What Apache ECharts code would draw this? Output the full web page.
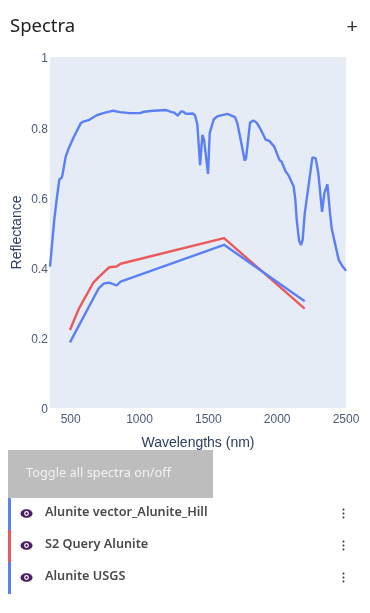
<!DOCTYPE html>
<html><head><meta charset="utf-8">
<style>html,body{margin:0;padding:0;background:#fff}#c{width:370px;height:613px}</style>
<script src="https://cdn.jsdelivr.net/npm/echarts@6/dist/echarts.min.js"></script>
</head><body><div id="c"></div>
<script>
const vectorWavelengths=[350,381,398,418,437,464,483,524,573,592,636,689,737,810,858,931,1004,1033,1101,1193,1234,1251,1277,1302,1319,1338,1386,1403,1420,1440,1457,1469,1498,1510,1539,1565,1573,1638,1694,1711,1735,1764,1774,1803,1827,1851,1880,1917,1943,1980,2016,2033,2062,2084,2120,2132,2142,2159,2173,2185,2200,2214,2256,2280,2299,2326,2343,2365,2384,2396,2420,2447,2476,2500];
const vectorValues=[0.403,0.536,0.593,0.651,0.657,0.716,0.737,0.773,0.811,0.816,0.821,0.834,0.840,0.847,0.843,0.840,0.840,0.844,0.847,0.849,0.843,0.842,0.833,0.845,0.844,0.838,0.839,0.834,0.809,0.692,0.778,0.764,0.667,0.783,0.822,0.831,0.830,0.838,0.829,0.811,0.764,0.705,0.711,0.813,0.819,0.813,0.794,0.764,0.761,0.744,0.707,0.701,0.674,0.662,0.631,0.593,0.536,0.477,0.464,0.479,0.553,0.550,0.714,0.711,0.669,0.559,0.612,0.637,0.555,0.512,0.469,0.422,0.403,0.391];
const s2Wavelengths=[495,561,665,704,750,781,834,863,1614,2200];
const s2Values=[0.222,0.284,0.357,0.373,0.390,0.401,0.403,0.411,0.484,0.283];
const usgsWavelengths=[495,704,742,781,834,863,1614,2200];
const usgsValues=[0.187,0.341,0.355,0.357,0.349,0.360,0.465,0.304];
const xTicks=[500,1000,1500,2000,2500];
const yTicks=[0,0.2,0.4,0.6,0.8,1];
const spectraNames=['Alunite vector_Alunite_Hill','S2 Query Alunite','Alunite USGS'];
const seriesColors=['#5a7ff7','#ea5a5a','#5a7ff7'];

const zip=(a,b)=>a.map((x,i)=>[x,b[i]]);
const ui='"Noto Sans"';
const chart=echarts.init(document.getElementById('c'),null,{renderer:'canvas'});
const graphic=[
 {type:'text',left:10,top:17,style:{text:'Spectra',font:'18.5px '+ui,fill:'#222'}},
 {type:'text',left:346.5,top:17,style:{text:'+',font:'20px '+ui,fill:'#333'}},
 {type:'rect',shape:{x:8,y:450,width:205,height:48},style:{fill:'#bdbdbd'}},
 {type:'text',left:26,top:467,style:{text:'Toggle all spectra on/off',font:'12.8px '+ui,fill:'#f2f2f2'}}
];
spectraNames.forEach((n,i)=>{
 const y=498+i*32;
 graphic.push({type:'rect',shape:{x:8,y:y,width:3,height:32},style:{fill:seriesColors[i]}});
 graphic.push({type:'ellipse',shape:{cx:26.5,cy:y+15.5,rx:6,ry:4.3},style:{fill:'#4a1f63'}});
 graphic.push({type:'circle',shape:{cx:26.5,cy:y+15.5,r:2.4},style:{fill:'#fff'}});
 graphic.push({type:'circle',shape:{cx:26.5,cy:y+15.5,r:1.2},style:{fill:'#4a1f63'}});
 graphic.push({type:'text',left:45,top:y+8,style:{text:n,font:'600 12.7px '+ui,fill:'#4a4a4a'}});
 [-4,0,4].forEach(d=>graphic.push({type:'circle',shape:{cx:343.5,cy:y+15.5+d,r:1},style:{fill:'#333'}}));
});
chart.setOption({
 animation:false,
 grid:{left:50,top:57,width:296,height:351,backgroundColor:'#e5ecf6',show:true,borderWidth:0,outerBoundsMode:'none'},
 xAxis:{type:'value',min:350,max:2500,
  name:'Wavelengths (nm)',nameLocation:'middle',nameGap:28,nameMoveOverlap:false,
  nameTextStyle:{color:'#2a3f5f',fontSize:14,fontFamily:'Liberation Sans'},
  axisLine:{show:false},axisTick:{show:false},splitLine:{show:false},
  axisLabel:{customValues:xTicks,color:'#4a5a78',fontSize:12,fontFamily:'Liberation Sans',margin:6,hideOverlap:false,formatter:v=>String(v)}},
 yAxis:{type:'value',min:0,max:1,
  name:'Reflectance',nameLocation:'middle',nameGap:26,nameMoveOverlap:false,
  nameTextStyle:{color:'#2a3f5f',fontSize:14,fontFamily:'Liberation Sans'},
  axisLine:{show:false},axisTick:{show:false},splitLine:{show:false},
  axisLabel:{customValues:yTicks,margin:2,formatter:v=>'{t|'+v+'}',
   rich:{t:{color:'#4a5a78',fontSize:12,fontFamily:'Liberation Sans',padding:[4,0,0,0]}}}},
 series:[
  {name:spectraNames[0],type:'line',data:zip(vectorWavelengths,vectorValues)},
  {name:spectraNames[1],type:'line',data:zip(s2Wavelengths,s2Values)},
  {name:spectraNames[2],type:'line',data:zip(usgsWavelengths,usgsValues)}
 ].map((s,i)=>Object.assign(s,{showSymbol:false,symbol:'none',clip:true,lineStyle:{color:seriesColors[i],width:2.4},z:i+2})),
 graphic
});
</script></body></html>
